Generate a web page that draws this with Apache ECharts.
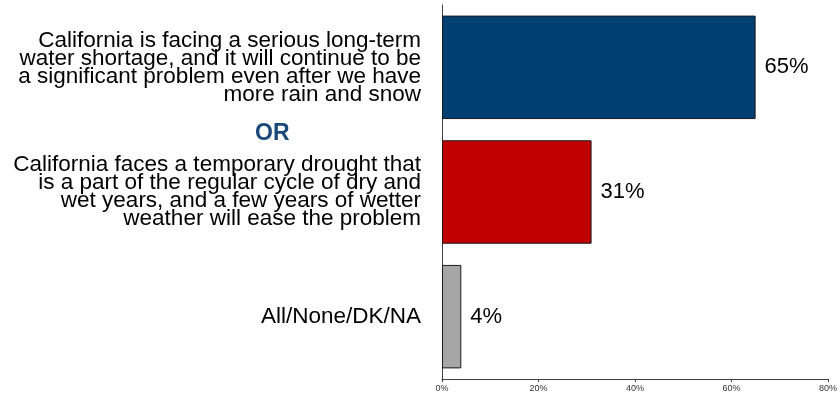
<!DOCTYPE html>
<html>
<head>
<meta charset="utf-8">
<script src="https://cdn.jsdelivr.net/npm/echarts@6/dist/echarts.min.js"></script>
<style>
  html, body { margin: 0; padding: 0; background: #fff; }
  #chart { width: 840px; height: 396px; }
</style>
</head>
<body>
<div id="chart"></div>
<script>
// Survey answers (category labels, wrapped as printed)
const categories = [
  'California is facing a serious long-term\nwater shortage, and it will continue to be\na significant problem even after we have\nmore rain and snow',
  'California faces a temporary drought that\nis a part of the regular cycle of dry and\nwet years, and a few years of wetter\nweather will ease the problem',
  'All/None/DK/NA'
];
// Share of respondents, percent
const values = [65, 31, 4];
// Value axis ticks
const axisMin = 0;
const axisMax = 80;
const axisStep = 20;

const fills = ['#003F72', '#C00000', '#A6A6A6'];
const font = 'Arial, "Liberation Sans", sans-serif';

const chart = echarts.init(document.getElementById('chart'), null, { renderer: 'canvas' });

chart.setOption({
  animation: false,
  backgroundColor: '#ffffff',
  grid: { left: 442, right: 10, top: 5, bottom: 17, containLabel: false },
  xAxis: {
    type: 'value',
    min: axisMin,
    max: axisMax,
    interval: axisStep,
    splitLine: { show: false },
    axisLine: { show: true, lineStyle: { color: '#404040', width: 1 } },
    axisTick: { show: true, length: 3, lineStyle: { color: '#404040' } },
    axisLabel: {
      formatter: '{value}%',
      fontSize: 9,
      color: '#333333',
      fontFamily: font,
      margin: 5
    }
  },
  yAxis: {
    type: 'category',
    data: categories,
    inverse: true,
    axisLine: { show: true, lineStyle: { color: '#404040', width: 1 } },
    axisTick: { show: false },
    axisLabel: {
      fontSize: 22.5,
      lineHeight: 18,
      color: '#000000',
      fontFamily: font,
      align: 'right',
      margin: 21
    }
  },
  series: [{
    type: 'bar',
    data: values.map((v, i) => ({
      value: v,
      itemStyle: { color: fills[i] }
    })),
    barWidth: '83%',
    itemStyle: { borderColor: '#1a1a1a', borderWidth: 1 },
    label: {
      show: true,
      position: 'right',
      distance: 9,
      formatter: '{c}%',
      fontSize: 22,
      color: '#000000',
      fontFamily: font
    }
  }],
  graphic: [{
    type: 'text',
    left: 255,
    top: 122,
    style: {
      text: 'OR',
      fontSize: 23,
      fontWeight: 'bold',
      fontFamily: font,
      fill: '#1B4A7A'
    }
  }]
});
</script>
</body>
</html>
